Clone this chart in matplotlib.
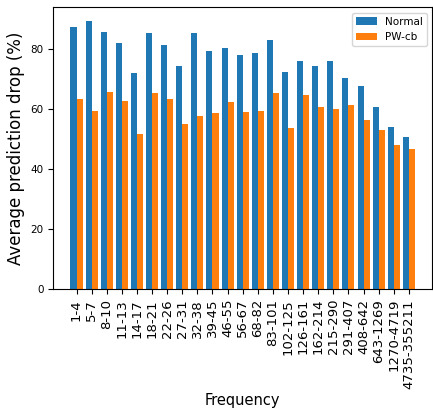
import numpy as np
import matplotlib
matplotlib.use('Agg')
from matplotlib import pyplot as plt

# frequency buckets and average prediction drop per bucket
freq_ranges = ['1-4', '5-7', '8-10', '11-13', '14-17', '18-21', '22-26', '27-31',
               '32-38', '39-45', '46-55', '56-67', '68-82', '83-101', '102-125',
               '126-161', '162-214', '215-290', '291-407', '408-642', '643-1269',
               '1270-4719', '4735-355211']
normal = [87.3, 89.5, 85.8, 82.2, 72.2, 85.5, 81.5, 74.3, 85.5, 79.5, 80.5, 78.1,
          78.9, 83.0, 72.6, 76.1, 74.3, 76.1, 70.5, 67.9, 60.8, 54.1, 50.7]
pw_cb = [63.5, 59.5, 65.8, 62.7, 51.9, 65.5, 63.5, 55.1, 57.8, 58.6, 62.5, 59.2,
         59.5, 65.5, 53.6, 64.7, 60.6, 60.2, 61.4, 56.3, 53.0, 48.2, 46.9]

x = np.arange(len(freq_ranges))
width = 0.4

fig = plt.figure(figsize=(4.33, 4.12), dpi=100)
ax = fig.add_axes([0.123, 0.298, 0.875, 0.684])

ax.bar(x - width / 2, normal, width, color='#1f77b4', label='Normal')
ax.bar(x + width / 2, pw_cb, width, color='#ff7f0e', label='PW-cb')

ax.set_xticks(x)
ax.set_xticklabels(freq_ranges, rotation=90, fontsize=9.5)
ax.tick_params(axis='y', labelsize=7.5)
ax.set_xlabel('Frequency', fontsize=10.5, labelpad=3)
ax.set_ylabel('Average prediction drop (%)', fontsize=12)
ax.legend(fontsize=7.5, loc='upper right')

fig.savefig('out.png', dpi=100)
